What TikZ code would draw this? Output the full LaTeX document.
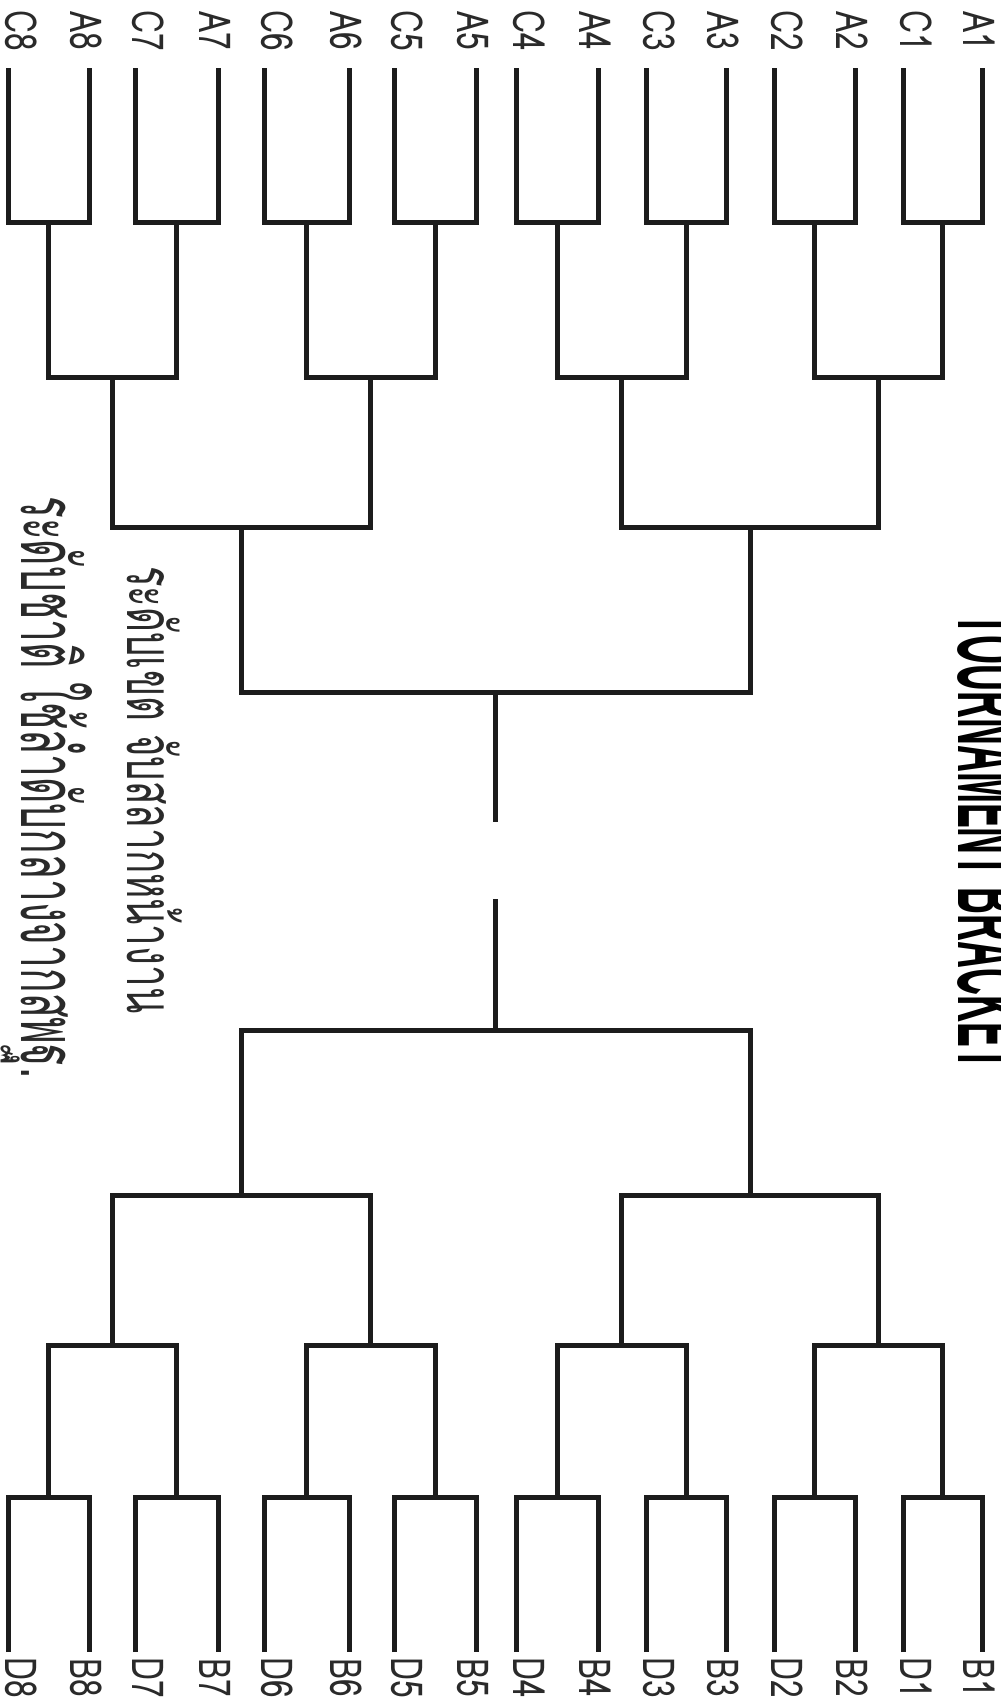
\documentclass[tikz,border=0pt]{standalone}
\usepackage{fontspec}
\usepackage{graphicx}
\setmainfont{Liberation Sans}
\newfontfamily\thaifont[Script=Thai]{Loma}
\newfontfamily\lblfont{Loma}
\newfontfamily\titlefont{Liberation Sans}
\definecolor{ink}{HTML}{1C1C1C}
\definecolor{txt}{HTML}{2A2A2A}
\newcommand\lbltext[1]{\scalebox{0.72}[1]{\lblfont\fontsize{44}{44}\selectfont #1}}
\begin{document}
\begin{tikzpicture}[x=1pt,y=-1pt,
  bk/.style={line width=5pt,draw=ink,line join=miter,line cap=butt},
  lbl/.style={rotate=-90,inner sep=0pt,text=txt,anchor=center},
  thai/.style={rotate=-90,inner sep=0pt,text=txt,anchor=base west}]
\useasboundingbox[fill=white] (0,0) rectangle (1001,1708);
\begin{scope}
\clip (0,0) rectangle (1001,1708);
% leaves and labels
\foreach \i/\a/\c in {1/982/903,2/855/774,3/726/646,4/598/516,5/476/394,6/349/264,7/218/135,8/89/8}{
  \coordinate (A\i) at (\a,68);
  \coordinate (C\i) at (\c,68);
  \coordinate (B\i) at (\a,1652);
  \coordinate (D\i) at (\c,1652);
  \node[lbl] (lA\i) at (\a-3,31) {\lbltext{A\i}};
  \node[lbl] (lC\i) at (\c+13,31) {\lbltext{C\i}};
  \node[lbl] (lB\i) at (\a-3,1678) {\lbltext{B\i}};
  \node[lbl] (lD\i) at (\c+13,1678) {\lbltext{D\i}};
  \draw[bk] (C\i) -- ++(0,154) -| (A\i);
  \draw[bk] (D\i) -- ++(0,-155) -| (B\i);
}
% round-1 winners (stems)
\foreach \i/\m in {1/942.5,2/814.5,3/686,4/557,5/435,6/306.5,7/176.5,8/48.5}{
  \coordinate (tw1\i) at (\m,222);
  \coordinate (bw1\i) at (\m,1497);
}
\foreach \p/\i/\j in {1/1/2,2/3/4,3/5/6,4/7/8}{
  \draw[bk] (tw1\i) -- ++(0,155) -| (tw1\j);
  \draw[bk] (bw1\i) -- ++(0,-152) -| (bw1\j);
}
% round-2 winners
\foreach \p/\m in {1/878.5,2/621.5,3/370.75,4/112.5}{
  \coordinate (tw2\p) at (\m,377);
  \coordinate (bw2\p) at (\m,1345);
}
\foreach \p/\i/\j in {1/1/2,2/3/4}{
  \draw[bk] (tw2\i) -- ++(0,150) -| (tw2\j);
  \draw[bk] (bw2\i) -- ++(0,-150) -| (bw2\j);
}
% round-3 winners
\coordinate (tw31) at (750,527);
\coordinate (tw32) at (241.6,527);
\coordinate (bw31) at (750,1195);
\coordinate (bw32) at (241.6,1195);
\draw[bk] (tw31) -- ++(0,165) -| (tw32);
\draw[bk] (bw31) -- ++(0,-165) -| (bw32);
% finalists
\coordinate (tf) at (495.8,692);
\coordinate (tfe) at (495.8,822);
\coordinate (bf) at (495.8,1030);
\coordinate (bfe) at (495.8,899);
\draw[bk] (tf) -- (tfe);
\draw[bk] (bf) -- (bfe);
% title (cut by the right edge)
\node[rotate=-90,inner sep=0pt,anchor=base west] (title) at (958,613)
  {\resizebox{457pt}{68pt}{\titlefont\bfseries TOURNAMENT BRACKET}};
% Thai notes
\node[thai] (note1) at (127,566)
  {\resizebox{447pt}{55pt}{\thaifont ระดับเขต จับสลากหน้างาน}};
\node[thai] (note2) at (22,496)
  {\resizebox{582pt}{71pt}{\thaifont ระดับชาติ ใช้ลำดับกลางจากสพฐ.}};
\end{scope}
\end{tikzpicture}
\end{document}
